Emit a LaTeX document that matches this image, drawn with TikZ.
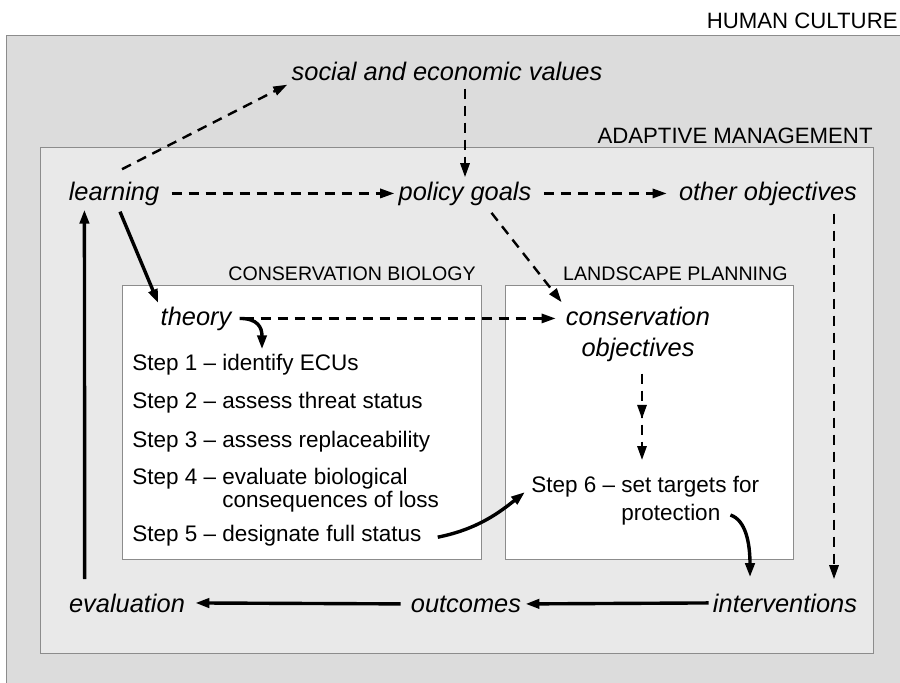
\documentclass[tikz,border=0pt]{standalone}
\usepackage{fontspec}
\setmainfont{Liberation Sans}
\usetikzlibrary{arrows.meta,calc,decorations.markings}

\definecolor{culture}{RGB}{220,220,220}
\definecolor{adaptive}{RGB}{233,233,233}
\definecolor{frame}{RGB}{140,140,140}

\begin{document}
\begin{tikzpicture}[x=0.5pt,y=-0.5pt,
  boxline/.style={draw=frame, line width=0.4pt},
  bigtitle/.style={inner sep=0pt, font=\fontsize{11.1}{13}\selectfont},
  smalltitle/.style={inner sep=0pt, font=\fontsize{9.8}{12}\selectfont},
  concept/.style={inner sep=2pt, font=\fontsize{12.7}{15}\selectfont\itshape},
  steptext/.style={inner sep=2pt, font=\fontsize{11.25}{11.5}\selectfont},
  tip/.style={-{Triangle[length=7pt,width=4.6pt]}},
  dasharrow/.style={line width=1.2pt, dash pattern=on 5pt off 3.5pt, tip},
  solidarrow/.style={line width=1.7pt, tip},
]
\useasboundingbox (0,0) rectangle (900,682);
\clip (0,0) rectangle (900,682);
\fill[white] (0,0) rectangle (900,682);

% nested frames
\filldraw[boxline, fill=culture]  (6,35)    rectangle (930,720);
\filldraw[boxline, fill=adaptive] (40,147)  rectangle (873,653);
\filldraw[boxline, fill=white]    (122,285) rectangle (481,559);
\filldraw[boxline, fill=white]    (505,285) rectangle (793,559);

% frame titles
\node[bigtitle, anchor=base east]   (hc) at (898,28)  {HUMAN CULTURE};
\node[bigtitle, anchor=base east]   (am) at (873,143) {ADAPTIVE MANAGEMENT};
\node[smalltitle, anchor=base east] (cb) at (476,280) {CONSERVATION BIOLOGY};
\node[smalltitle, anchor=base east] (lp) at (788,280) {LANDSCAPE PLANNING};

% concepts
\node[concept, anchor=base] (social)   at (447,80)  {social and economic values};
\node[concept, anchor=base] (learning) at (114,200) {learning};
\node[concept, anchor=base] (policy)   at (465,200) {policy goals};
\node[concept, anchor=base] (other)    at (768,200) {other objectives};
\node[concept, anchor=base] (theory)   at (196,325) {theory};
\node[concept, anchor=base, align=center, font=\fontsize{12.7}{15.5}\selectfont\itshape]
     (consobj) at (638,356) {conservation\\objectives};
\node[concept, anchor=base] (evaluation)    at (127,612) {evaluation};
\node[concept, anchor=base] (outcomes)      at (466,612) {outcomes};
\node[concept, anchor=base] (interventions) at (785,612) {interventions};

% protocol steps
\node[steptext, anchor=base west] (s1) at (128,370) {Step 1 -- identify ECUs};
\node[steptext, anchor=base west] (s2) at (128,408) {Step 2 -- assess threat status};
\node[steptext, anchor=base west] (s3) at (128,447) {Step 3 -- assess replaceability};
\node[steptext, anchor=base west] (s4) at (128,484)
  {Step 4 -- \begin{tabular}[t]{@{}l@{}}evaluate biological\\consequences of loss\end{tabular}};
\node[steptext, anchor=base west] (s5) at (128,541) {Step 5 -- designate full status};
\node[steptext, anchor=base west, font=\fontsize{11.25}{14}\selectfont] (s6) at (527,492)
  {Step 6 -- \begin{tabular}[t]{@{}l@{}}set targets for\\protection\end{tabular}};

% dashed influences
\draw[dasharrow] ([shift={(8,-8)}]learning.north) -- (social.south west);
\draw[dasharrow, shorten <=2pt] (policy.north |- social.south) -- (policy.north);
\draw[dasharrow, shorten <=4pt] (learning.east) -- (policy.west);
\draw[dasharrow, shorten <=4pt, shorten >=4pt] (policy.east) -- (other.west);
\draw[dasharrow, shorten <=2pt] ([xshift=12pt]policy.south) -- (consobj.north west);
\draw[dasharrow, shorten <=4pt, shorten >=3pt] (theory.east) -- (theory.east -| consobj.west);
\draw[dasharrow, shorten <=4pt, shorten >=4pt, postaction={decorate},
      decoration={markings, mark=at position 0.52 with {\arrow{Triangle[length=7pt,width=4.6pt]}}}]
  ([xshift=2pt]consobj.south) -- ([xshift=2pt]consobj.south |- s6.north);
\coordinate (oa) at ([xshift=33pt]other.south);
\draw[dasharrow, shorten <=2pt, shorten >=5pt] (oa) -- (oa |- interventions.north);

% solid flow
\draw[solidarrow] ([shift={(6,2)}]learning.south) -- ([shift={(2,1)}]theory.north west);
\draw[solidarrow] ([shift={(4,0)}]theory.east) .. controls +(18,0) and +(0,-22) .. ([shift={(134,0)}]s1.north west);
\draw[solidarrow] ([shift={(12,2)}]s5.east) .. controls +(40,-8) and +(-25,20) .. ([xshift=-1pt]s6.base west);
\draw[solidarrow] ([shift={(-33,23)}]s6.base east) .. controls +(15,5) and +(0,-35) .. ([shift={(-35,-12)}]interventions.north);
\draw[solidarrow] (interventions.west) -- (outcomes.east);
\draw[solidarrow, shorten <=3pt, shorten >=3pt] (outcomes.west) -- (evaluation.east);
\draw[solidarrow] ([shift={(20,-10)}]evaluation.north west) -- ([shift={(20,0)}]learning.south west);
\end{tikzpicture}
\end{document}
